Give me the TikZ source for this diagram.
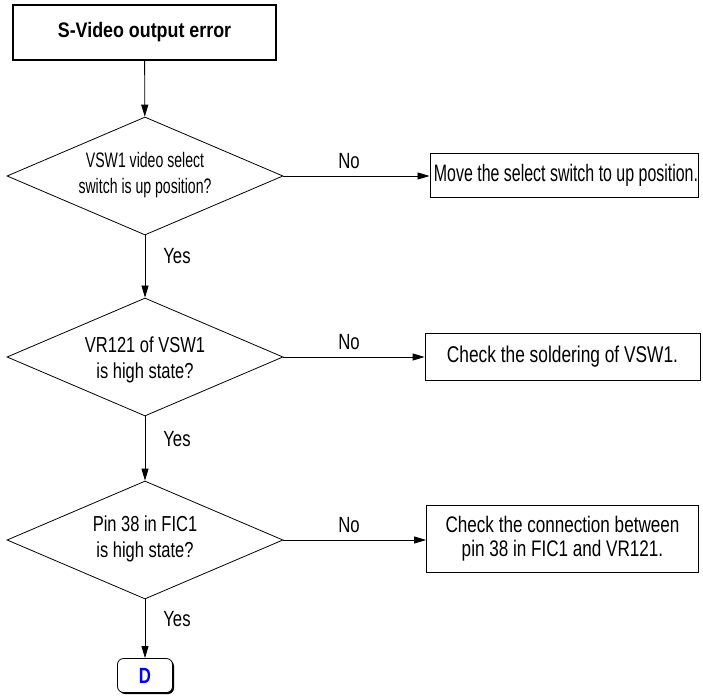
\documentclass[tikz,border=0pt]{standalone}
\usepackage{fontspec}
\setmainfont{Liberation Sans}[FakeStretch=0.76]
\newfontfamily\narrowfont{Liberation Sans}[FakeStretch=0.67]
\newfontfamily\titlefont{Liberation Sans}[FakeStretch=0.85]
\usetikzlibrary{shapes.geometric,arrows.meta,shadows}
\begin{document}
\begin{tikzpicture}[x=1pt,y=-1pt,
  every node/.style={font=\fontsize{22}{26}\selectfont},
  dec/.style={draw, shape=diamond, minimum width=276pt, minimum height=118pt, inner sep=0pt, line width=0.8pt},
  dectext/.style={align=center, inner sep=0pt, font=\fontsize{21.7}{26}\selectfont},
  actbox/.style={draw, rectangle, line width=0.8pt, align=center, inner sep=0pt},
  arr/.style={-{Triangle[length=12pt,width=7pt]}, line width=0.8pt},
  lbl/.style={inner sep=0pt, font=\fontsize{22}{26}\selectfont}
]
\useasboundingbox (0,0) rectangle (703,700);
\node[draw, line width=1.6pt, minimum width=263pt, minimum height=55pt, font=\titlefont\bfseries\fontsize{21}{25}\selectfont] (start) at (144.5,32.5) {S-Video output error};

\node[dec] (d1) at (145,176) {};
\node[dectext, font=\narrowfont\fontsize{21}{26}\selectfont] (t1) at (145,175) {VSW1 video select\\switch is up position?};
\node[actbox, minimum width=268pt, minimum height=44pt, font=\narrowfont\fontsize{23.8}{26}\selectfont] (b1) at (564,175.5) {\hspace*{4pt}Move the select switch to up position.};

\node[dec] (d2) at (145,357) {};
\node[dectext] (t2) at (145,360) {VR121 of VSW1\\is high state?};
\node[actbox, minimum width=275pt, minimum height=47pt, font=\fontsize{22.8}{26}\selectfont] (b2) at (562.5,356.5) {Check the soldering of VSW1.};

\node[dec] (d3) at (145,540) {};
\node[dectext] (t3) at (145,539) {Pin 38 in FIC1\\is high state?};
\node[actbox, minimum width=272pt, minimum height=67pt, font=\fontsize{22.5}{24}\selectfont] (b3) at (562.5,538.5) {Check the connection between\\pin 38 in FIC1 and VR121.};

\node[draw, fill=white, line width=0.8pt, rounded corners=6pt, minimum width=55pt, minimum height=34pt, text=blue, font=\bfseries\fontsize{22}{25}\selectfont,
  drop shadow={shadow xshift=1.5pt, shadow yshift=-1.5pt, fill=black, opacity=1}] (D) at (145,675.5) {D};

\draw[arr] (start) -- (d1);
\draw[arr] (d1.east) -- (d1.east -| b1.west);
\draw[arr] (d1) -- (d2);
\draw[arr] (d2.east) -- (d2.east -| b2.west);
\draw[arr] (d2) -- (d3);
\draw[arr] (d3.east) -- (d3.east -| b3.west);
\draw[arr] (d3) -- (D);

\node[lbl] (no1) at (349,161) {No};
\node[lbl] (no2) at (349,342) {No};
\node[lbl] (no3) at (349,525) {No};
\node[lbl] (yes1) at (177,256) {Yes};
\node[lbl] (yes2) at (177,439) {Yes};
\node[lbl] (yes3) at (177,619) {Yes};
\end{tikzpicture}
\end{document}
